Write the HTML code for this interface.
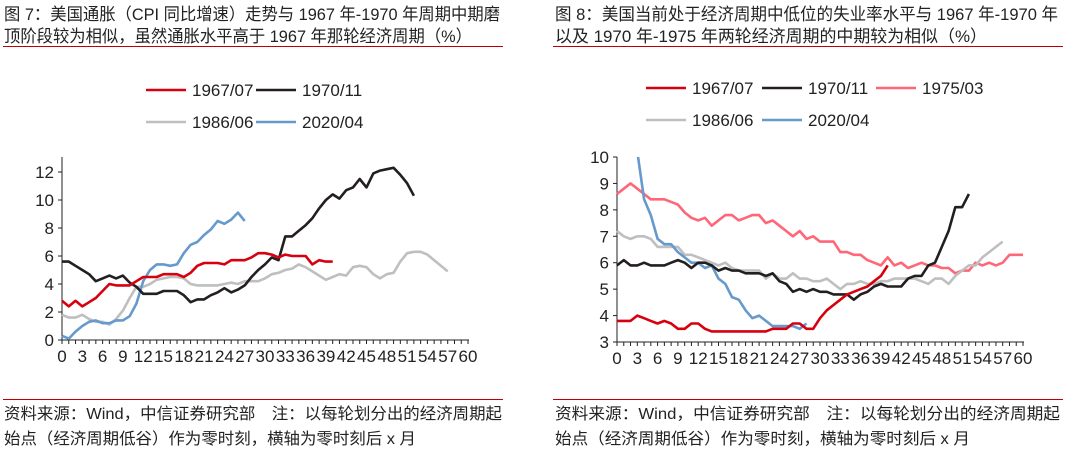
<!DOCTYPE html>
<html><head><meta charset="utf-8"><style>
body{margin:0;width:1080px;height:453px;background:#fff;overflow:hidden;font-family:"Liberation Sans","Noto Sans CJK SC",sans-serif}
svg{position:absolute;left:0;top:0}
</style></head><body>
<svg id="s" width="1080" height="453" font-family="Liberation Sans, Noto Sans CJK SC, sans-serif">
<g font-size="17" fill="#222">
<text x="4" y="20" textLength="496" lengthAdjust="spacingAndGlyphs">图 7：美国通胀（CPI 同比增速）走势与 1967 年-1970 年周期中期磨</text>
<text x="4" y="42" textLength="468" lengthAdjust="spacingAndGlyphs">顶阶段较为相似，虽然通胀水平高于 1967 年那轮经济周期（%）</text>
<line x1="3" y1="46.5" x2="503" y2="46.5" stroke="#c00000" stroke-width="1"/>
</g>
<g font-size="17" fill="#222">
<text x="555" y="20" textLength="503" lengthAdjust="spacingAndGlyphs">图 8：美国当前处于经济周期中低位的失业率水平与 1967 年-1970 年</text>
<text x="555" y="42" textLength="432" lengthAdjust="spacingAndGlyphs">以及 1970 年-1975 年两轮经济周期的中期较为相似（%）</text>
<line x1="553" y1="46.5" x2="1063" y2="46.5" stroke="#c00000" stroke-width="1"/>
</g>
<g font-size="16" fill="#222">
<line x1="3" y1="399.5" x2="503" y2="399.5" stroke="#c00000"/>
<text x="4" y="419" textLength="498" lengthAdjust="spacingAndGlyphs">资料来源：Wind，中信证券研究部　注：以每轮划分出的经济周期起</text>
<text x="4" y="444" textLength="412" lengthAdjust="spacingAndGlyphs">始点（经济周期低谷）作为零时刻，横轴为零时刻后 x 月</text>
<line x1="553" y1="399.5" x2="1063" y2="399.5" stroke="#c00000"/>
<text x="555" y="419" textLength="505" lengthAdjust="spacingAndGlyphs">资料来源：Wind，中信证券研究部　注：以每轮划分出的经济周期起</text>
<text x="555" y="444" textLength="415" lengthAdjust="spacingAndGlyphs">始点（经济周期低谷）作为零时刻，横轴为零时刻后 x 月</text>
</g>
<defs>
<clipPath id="cr"><rect x="600" y="157" width="440" height="190"/></clipPath>
</defs>
</svg>
<script>
const xTicks=[0,3,6,9,12,15,18,21,24,27,30,33,36,39,42,45,48,51,54,57,60];
const leftYTicks=[0,2,4,6,8,10,12];
const rightYTicks=[3,4,5,6,7,8,9,10];
const L1967=[2.8,2.4,2.8,2.4,2.7,3.0,3.5,4.0,3.9,3.9,3.9,4.2,4.5,4.5,4.5,4.7,4.7,4.7,4.5,4.8,5.3,5.5,5.5,5.5,5.4,5.7,5.7,5.7,5.9,6.2,6.2,6.1,5.9,6.1,6.0,6.0,6.0,5.4,5.7,5.6,5.6];
const L1970=[5.6,5.6,5.3,5.0,4.7,4.2,4.4,4.6,4.4,4.6,4.1,3.8,3.3,3.3,3.3,3.5,3.5,3.5,3.2,2.7,2.9,2.9,3.2,3.4,3.7,3.4,3.6,3.9,4.5,5.0,5.4,5.9,5.7,7.4,7.4,7.8,8.2,8.7,9.4,10.0,10.4,10.1,10.7,10.9,11.5,10.9,11.9,12.1,12.2,12.3,11.8,11.2,10.3];
const L1986=[1.8,1.6,1.6,1.8,1.5,1.3,1.3,1.1,1.5,2.1,3.0,3.8,3.8,4.0,4.3,4.4,4.5,4.5,4.4,4.0,3.9,3.9,3.9,3.9,4.0,4.1,4.0,4.2,4.2,4.2,4.4,4.7,4.8,5.0,5.1,5.4,5.2,4.9,4.6,4.3,4.5,4.7,4.6,5.2,5.3,5.2,4.7,4.4,4.7,4.8,5.6,6.2,6.3,6.3,6.1,5.7,5.3,4.9];
const L2020=[0.3,0.1,0.6,1.0,1.3,1.4,1.2,1.2,1.4,1.4,1.7,2.6,4.2,5.0,5.4,5.4,5.3,5.4,6.2,6.8,7.0,7.5,7.9,8.5,8.3,8.6,9.1,8.5];
const R1967=[3.8,3.8,3.8,4.0,3.9,3.8,3.7,3.8,3.7,3.5,3.5,3.7,3.7,3.5,3.4,3.4,3.4,3.4,3.4,3.4,3.4,3.4,3.4,3.5,3.5,3.5,3.7,3.7,3.5,3.5,3.9,4.2,4.4,4.6,4.8,4.9,5.0,5.1,5.3,5.5,5.9];
const R1970=[5.9,6.1,5.9,5.9,6.0,5.9,5.9,5.9,6.0,6.1,6.0,5.8,6.0,6.0,5.9,5.7,5.8,5.7,5.7,5.6,5.6,5.6,5.5,5.6,5.3,5.2,4.9,5.0,4.9,5.0,4.9,4.9,4.8,4.8,4.8,4.6,4.8,4.9,5.1,5.2,5.1,5.1,5.1,5.4,5.5,5.5,5.9,6.0,6.6,7.2,8.1,8.1,8.6];
const R1975=[8.6,8.8,9.0,8.8,8.6,8.4,8.4,8.4,8.3,8.2,7.9,7.7,7.6,7.7,7.4,7.6,7.8,7.8,7.6,7.7,7.8,7.8,7.5,7.6,7.4,7.2,7.0,7.2,6.9,7.0,6.8,6.8,6.8,6.4,6.4,6.3,6.3,6.1,6.0,5.9,6.2,5.9,6.0,5.8,5.9,6.0,5.9,5.9,5.8,5.8,5.6,5.7,5.7,6.0,5.9,6.0,5.9,6.0,6.3,6.3,6.3];
const R1986=[7.2,7.0,6.9,7.0,7.0,6.9,6.6,6.6,6.6,6.6,6.3,6.3,6.2,6.1,6.0,5.9,6.0,5.8,5.7,5.7,5.7,5.7,5.4,5.6,5.4,5.4,5.6,5.4,5.4,5.3,5.3,5.4,5.2,5.0,5.2,5.2,5.3,5.2,5.2,5.3,5.3,5.4,5.4,5.4,5.4,5.3,5.2,5.4,5.4,5.2,5.5,5.7,5.9,5.9,6.2,6.4,6.6,6.8];
const R2020=[14.7,13.3,11.1,10.2,8.4,7.8,6.9,6.7,6.7,6.4,6.2,6.0,6.0,5.8,5.9,5.4,5.2,4.7,4.6,4.2,3.9,4.0,3.8,3.6,3.6,3.6,3.6,3.5,3.7];

const NS='http://www.w3.org/2000/svg';
const svg=document.getElementById('s');
function mk(t,a,p){const e=document.createElementNS(NS,t);for(const k in a)e.setAttribute(k,a[k]);(p||svg).appendChild(e);return e;}

function chart(cfg){
  const g=mk('g',{});
  
  
  const xs=v=>cfg.x0+(v/60)*(cfg.x1-cfg.x0);
  const ys=v=>cfg.y0-(v-cfg.ymin)/(cfg.ymax-cfg.ymin)*(cfg.y0-cfg.y1);
  const ax=mk('path',{d:`M${cfg.x0} ${cfg.ytop}V${cfg.y0}H${cfg.x1+1}`,stroke:'#222','stroke-width':1,fill:'none'},g);
  
  
  for(let m=0;m<=60;m++){
    const t=mk('line',{x1:xs(m),x2:xs(m),y1:cfg.y0,y2:cfg.y0+4,stroke:'#222','stroke-width':1},g);
    
    
  }
  xTicks.forEach(v=>{
    const t=mk('text',{x:xs(v),y:cfg.y0+22,'text-anchor':'middle','font-size':17,fill:'#222'},g);
    t.textContent=v;
    
    
  });
  cfg.yt.forEach(v=>{
    const t=mk('line',{x1:cfg.x0-4,x2:cfg.x0,y1:ys(v),y2:ys(v),stroke:'#222'},g);
    
    
    const l=mk('text',{x:cfg.x0-8,y:ys(v)+6,'text-anchor':'end','font-size':17,fill:'#222'},g);
    l.textContent=v;
    
    
  });
  const sg=mk('g',cfg.clip?{'clip-path':'url(#cr)'}:{},g);
  cfg.series.forEach(s=>{
    const d=s.v.map((v,i)=>(i?'L':'M')+xs(i).toFixed(1)+' '+ys(v).toFixed(1)).join('');
    const p=mk('path',{d,stroke:s.c,'stroke-width':2.6,fill:'none','stroke-linejoin':'round'},sg);
    
    
  });
  cfg.legend.forEach(l=>{
    const lg=mk('g',{},g);
    
    
    mk('line',{x1:l.x-46,x2:l.x-6,y1:l.y-6,y2:l.y-6,stroke:l.c,'stroke-width':2.6},lg);
    const t=mk('text',{x:l.x,y:l.y,'font-size':17,fill:'#222'},lg);
    t.textContent=l.n;
  });
}
chart({name:'left-cpi-chart',x0:62,x1:468,y0:340,y1:172,ytop:157,ymin:0,ymax:12,yt:leftYTicks,
 series:[{n:'1986-06',v:L1986,c:'#bfbfbf'},{n:'2020-04',v:L2020,c:'#6699cc'},{n:'1970-11',v:L1970,c:'#231f20'},{n:'1967-07',v:L1967,c:'#d7000f'}],
 legend:[{n:'1967/07',c:'#d7000f',x:192,y:96},{n:'1970/11',c:'#231f20',x:302,y:96},{n:'1986/06',c:'#bfbfbf',x:192,y:128},{n:'2020/04',c:'#6699cc',x:302,y:128}]});
chart({name:'right-unemployment-chart',x0:617,x1:1023,y0:342,y1:157,ytop:157,ymin:3,ymax:10,yt:rightYTicks,clip:true,
 series:[{n:'1975-03',v:R1975,c:'#ff6677'},{n:'1986-06',v:R1986,c:'#bfbfbf'},{n:'2020-04',v:R2020,c:'#6699cc'},{n:'1970-11',v:R1970,c:'#231f20'},{n:'1967-07',v:R1967,c:'#d7000f'}],
 legend:[{n:'1967/07',c:'#d7000f',x:692,y:94},{n:'1970/11',c:'#231f20',x:808,y:94},{n:'1975/03',c:'#ff6677',x:922,y:94},{n:'1986/06',c:'#bfbfbf',x:692,y:126},{n:'2020/04',c:'#6699cc',x:808,y:126}]});
</script>
</body></html>
